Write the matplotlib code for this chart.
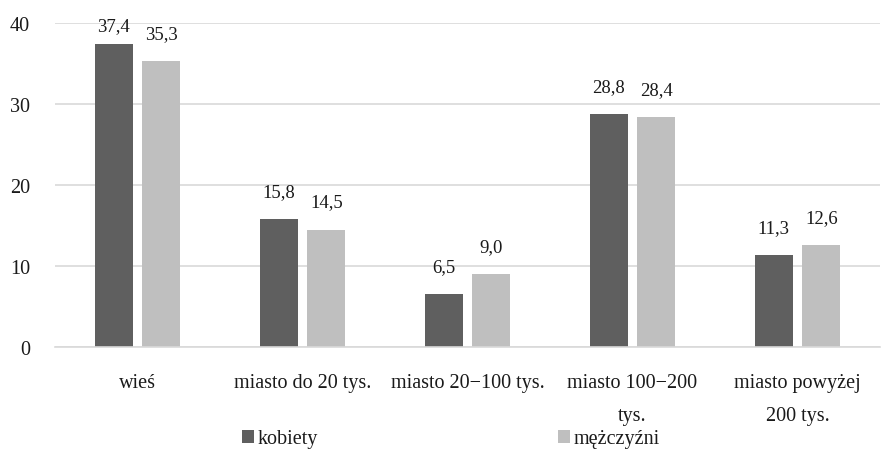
import matplotlib.pyplot as plt
import numpy as np

# data
categories = ['wieś', 'miasto do 20 tys.', 'miasto 20−100 tys.', 'miasto 100−200\ntys.', 'miasto powyżej\n200 tys.']
kobiety = [37.4, 15.8, 6.5, 28.8, 11.3]
mezczyzni = [35.3, 14.5, 9.0, 28.4, 12.6]
series_names = ['kobiety', 'mężczyźni']

plt.rcParams['font.family'] = ['Liberation Serif', 'DejaVu Serif']

fig = plt.figure(figsize=(8.86, 4.52), dpi=100)
ax = fig.add_axes([55/886, 104/452, 825/886, 324/452])

x = np.arange(len(categories))
w = 0.23
off = 0.145
ymax = 40

b1 = ax.bar(x - off, kobiety, width=w, color='#5f5f5f', label=series_names[0], zorder=3)
b2 = ax.bar(x + off, mezczyzni, width=w, color='#bfbfbf', label=series_names[1], zorder=3)

# value labels with decimal comma, pushed down when near the top
px_per_unit = 324 / ymax
for bars, vals in [(b1, kobiety), (b2, mezczyzni)]:
    for bar, v in zip(bars, vals):
        gap = min(19, (ymax - v) * px_per_unit - 11)
        ax.annotate(f'{v:.1f}'.replace('.', ','),
                    (bar.get_x() + bar.get_width() / 2, v),
                    xytext=(0, gap * 0.72), textcoords='offset points',
                    ha='center', va='bottom', fontsize=13.5, color='#1a1a1a')

ax.set_xlim(-0.5, len(categories) - 0.5)
ax.set_ylim(0, ymax)
ax.set_yticks([0, 10, 20, 30, 40])
ax.set_xticks(x)
ax.set_xticklabels(categories, fontsize=14.5, linespacing=1.95, color='#1a1a1a')
ax.tick_params(axis='y', length=0, pad=18, labelsize=14.5, labelcolor='#1a1a1a')
ax.tick_params(axis='x', length=0, pad=19)

ax.grid(axis='y', color='#d9d9d9', linewidth=1.2, zorder=0)
for s in ['top', 'right', 'left']:
    ax.spines[s].set_visible(False)
ax.spines['bottom'].set_color('#d9d9d9')
ax.spines['bottom'].set_linewidth(1.2)
ax.spines['bottom'].set_zorder(4)

fig.legend(loc='lower center', bbox_to_anchor=(0.509, -0.034), ncol=2, frameon=False,
           fontsize=14.5, handlelength=0.6, handleheight=0.6, handletextpad=0.2,
           columnspacing=11.9, labelcolor='#1a1a1a')

fig.savefig('out.png', dpi=100)
